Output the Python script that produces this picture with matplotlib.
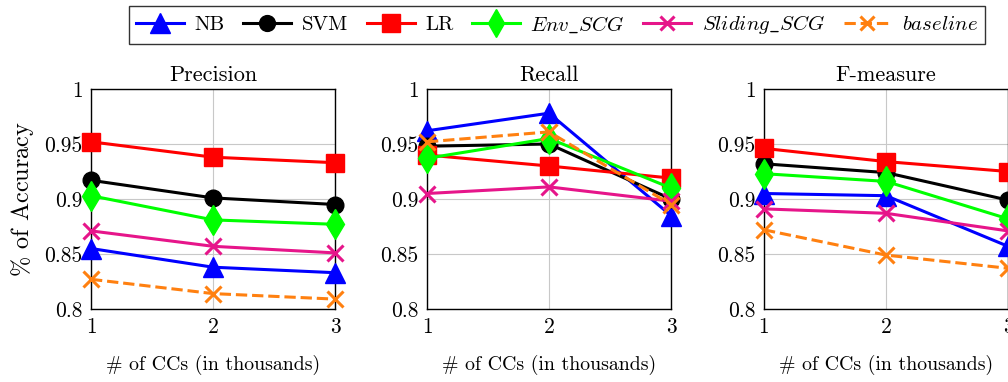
import numpy as np
import matplotlib.pyplot as plt

plt.rcParams['font.family'] = ['cmr10', 'Liberation Serif', 'DejaVu Serif']
plt.rcParams['mathtext.fontset'] = 'cm'
plt.rcParams['axes.formatter.use_mathtext'] = True

x = [1, 2, 3]
titles = ["Precision", "Recall", "F-measure"]

nb = [[0.855, 0.838, 0.833], [0.962, 0.978, 0.885], [0.905, 0.903, 0.857]]
svm = [[0.917, 0.901, 0.895], [0.948, 0.950, 0.900], [0.932, 0.924, 0.899]]
lr = [[0.952, 0.938, 0.933], [0.940, 0.930, 0.919], [0.946, 0.934, 0.925]]
env = [[0.903, 0.881, 0.877], [0.937, 0.955, 0.910], [0.923, 0.916, 0.882]]
sliding = [[0.871, 0.857, 0.851], [0.905, 0.911, 0.898], [0.891, 0.887, 0.871]]
baseline = [[0.827, 0.814, 0.809], [0.952, 0.961, 0.895], [0.872, 0.849, 0.837]]

series = [
    ("NB", nb, dict(color="blue", marker="^", ms=15)),
    ("SVM", svm, dict(color="black", marker="o", ms=12)),
    ("LR", lr, dict(color="red", marker="s", ms=13)),
    (r"$Env\_SCG$", env, dict(color="#00ff00", marker="d", ms=15)),
    (r"$Sliding\_SCG$", sliding, dict(color="#e6158a", marker="x", ms=11, mew=2.2)),
    (r"$baseline$", baseline, dict(color="#ff8010", marker="x", ms=11, mew=2.2, ls="--")),
]

fig = plt.figure(figsize=(10.08, 3.82), dpi=100)
W, H = 1008, 382
lefts = [91, 427, 764]
handles = []
for i, left in enumerate(lefts):
    ax = fig.add_axes([left / W, (H - 309) / H, 244 / W, 220 / H])
    for name, vals, style in series:
        st = dict(lw=2.2, clip_on=False, zorder=3)
        st.update(style)
        h, = ax.plot(x, vals[i], label=name, **st)
        if i == 0:
            handles.append(h)
    ax.set_xlim(1, 3)
    ax.set_ylim(0.8, 1.0)
    ax.set_xticks([1, 2, 3])
    ax.set_xticklabels(["1", "2", "3"])
    ax.set_yticks([0.8, 0.85, 0.9, 0.95, 1.0])
    ax.set_yticklabels(["0.8", "0.85", "0.9", "0.95", "1"])
    ax.grid(color="#c8c8c8", lw=0.8)
    ax.tick_params(direction="in", length=0, labelsize=15.5, pad=6)
    for s in ax.spines.values():
        s.set_linewidth(1.0)
    ax.set_title(titles[i], fontsize=16, pad=6)
    ax.set_xlabel("# of CCs (in thousands)", fontsize=14.3, labelpad=13)
    if i == 0:
        ax.set_ylabel(r"$\%$ of Accuracy", fontsize=17.5, labelpad=6)

leg = fig.legend(handles=handles, ncol=6, loc="center",
                 bbox_to_anchor=(557 / W, 1 - 25 / H), fontsize=15,
                 frameon=True, fancybox=False, edgecolor="black",
                 handlelength=2.3, columnspacing=0.9, handletextpad=0.5,
                 borderpad=0.35, markerscale=0.95)
leg.get_frame().set_linewidth(1.0)

fig.savefig("out.png", dpi=100)
